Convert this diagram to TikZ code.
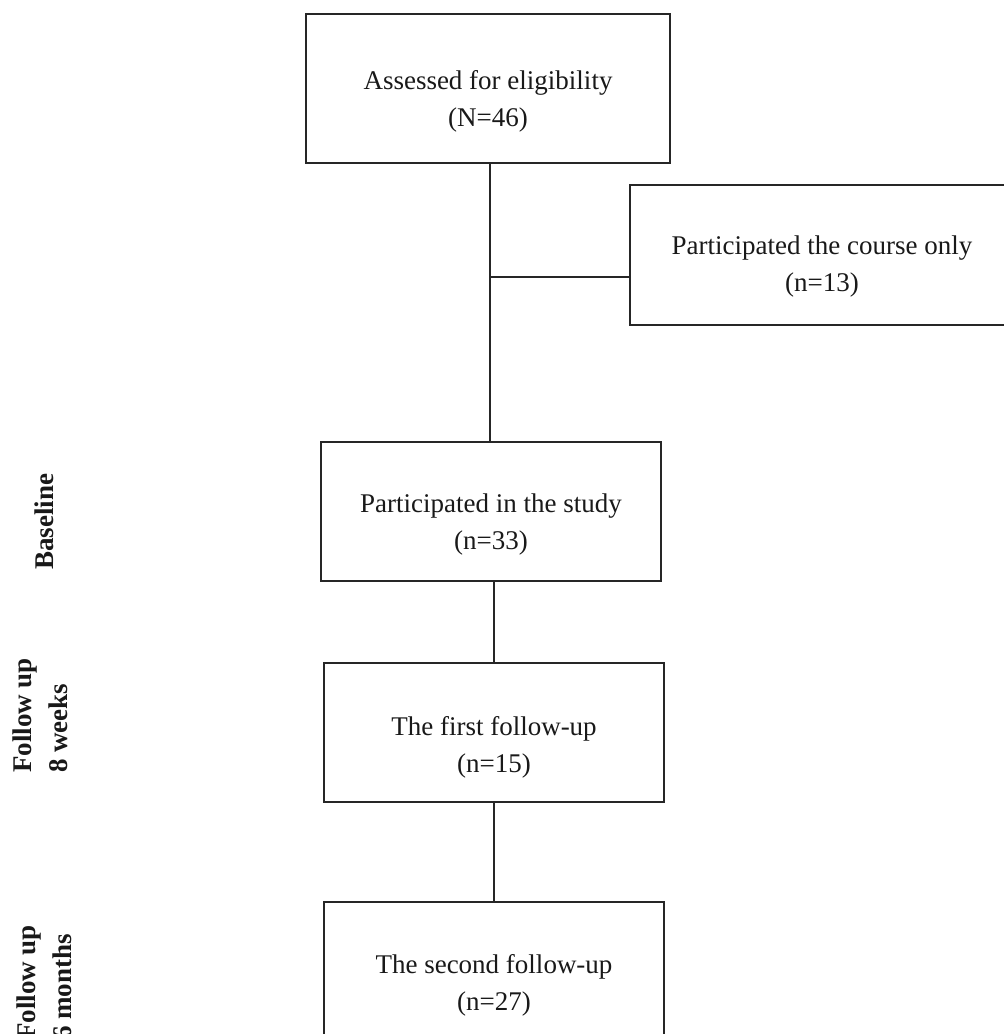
\documentclass[tikz,border=0pt]{standalone}
\usepackage{fontspec}
\setmainfont{Liberation Serif}
\begin{document}
\begin{tikzpicture}[x=1pt,y=-1pt,
  box/.style={draw=black!85,line width=1.6pt,rectangle,inner sep=0pt},
  txt/.style={align=center,font=\fontsize{27}{37}\selectfont,text=black!90,inner sep=0pt},
  side/.style={rotate=90,align=left,anchor=north west,inner sep=0pt,font=\fontsize{27}{36}\selectfont\bfseries,text=black!90},
  conn/.style={draw=black!85,line width=1.6pt}]
\useasboundingbox (0,0) rectangle (1004,1034);
\clip (0,0) rectangle (1004,1034);
% boxes
\node[box,minimum width=364pt,minimum height=149pt] (b1) at (488,88.5) {};
\node[box,minimum width=384pt,minimum height=140pt] (b2) at (822,255) {};
\node[box,minimum width=340pt,minimum height=139pt] (b3) at (491,511.5) {};
\node[box,minimum width=340pt,minimum height=139pt] (b4) at (494,732.5) {};
\node[box,minimum width=340pt,minimum height=139pt] (b5) at (494,971.5) {};
% texts
\node[txt] (t1) at (488,101) {Assessed for eligibility\\(N=46)};
\node[txt] (t2) at (822,267) {Participated the course only\\(n=13)};
\node[txt] (t3) at (491,524) {Participated in the study\\(n=33)};
\node[txt] (t4) at (494,747) {The first follow-up\\(n=15)};
\node[txt] (t5) at (494,985) {The second follow-up\\(n=27)};
% connectors
\coordinate (j) at (490,277);
\draw[conn] (b1.south -| j) -- (b3.north -| j);
\draw[conn] (j) -- (b2.west |- j);
\draw[conn] (b4.north |- b3.south) -- (b4.north);
\draw[conn] (b4.south) -- (b5.north);
% side labels
\node[side] (s1) at (35,570) {Baseline};
\node[side] (s2) at (13,773) {Follow up\\8 weeks};
\node[side] (s3) at (17,1040) {Follow up\\6 months};
\end{tikzpicture}
\end{document}
